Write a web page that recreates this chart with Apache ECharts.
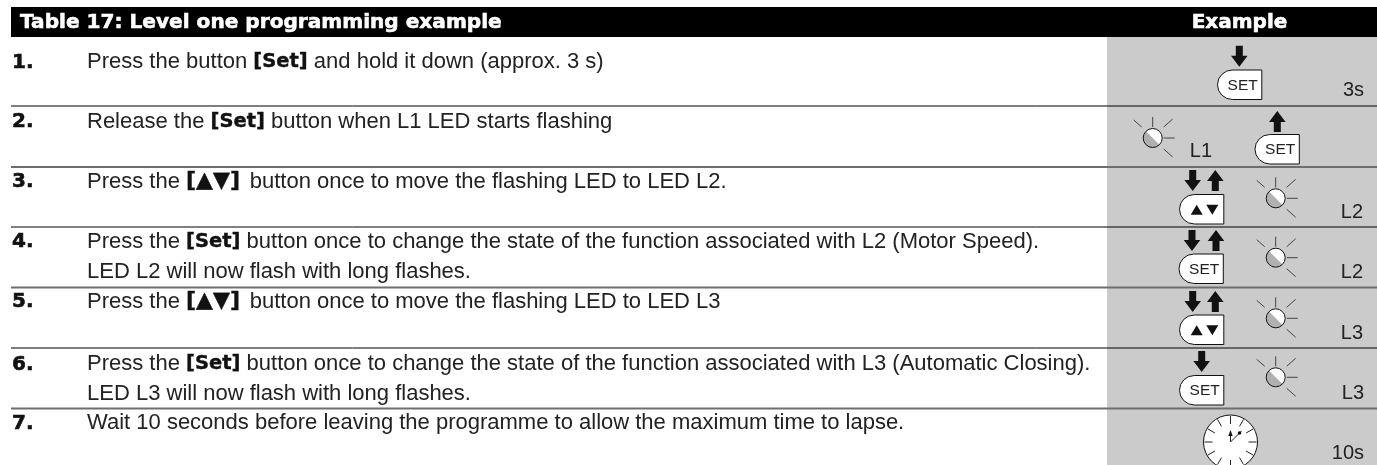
<!DOCTYPE html>
<html>
<head>
<meta charset="utf-8">
<style>
  html, body { margin: 0; padding: 0; background: #fff; overflow: hidden; }
  #chart { width: 1377px; height: 465px; }
</style>
<script src="https://cdn.jsdelivr.net/npm/echarts@6/dist/echarts.min.js"></script>
</head>
<body>
<div id="chart"></div>
<script>
// table content
var tableTitle = "Table 17: Level one programming example";
var exampleTitle = "Example";
var stepNumbers = ["1.", "2.", "3.", "4.", "5.", "6.", "7."];
var stepLines = [
  ["Press the button [Set] and hold it down (approx. 3 s)"],
  ["Release the [Set] button when L1 LED starts flashing"],
  ["Press the [▲▼] button once to move the flashing LED to LED L2."],
  ["Press the [Set] button once to change the state of the function associated with L2 (Motor Speed).",
   "LED L2 will now flash with long flashes."],
  ["Press the [▲▼] button once to move the flashing LED to LED L3"],
  ["Press the [Set] button once to change the state of the function associated with L3 (Automatic Closing).",
   "LED L3 will now flash with long flashes."],
  ["Wait 10 seconds before leaving the programme to allow the maximum time to lapse."]
];
var stepUnits = ["3s", "L1", "L2", "L2", "L3", "L3", "10s"];
var buttonCaptions = ["SET", "SET", "", "SET", "", "SET"];

// layout of the page, in px
var textFont = "Liberation Sans, Arial, sans-serif";
var heavyFont = "DejaVu Sans, sans-serif";
var ink = "#222222";
var grey = "#cbcbcb";
var rowTextY = [62, 121.7, 181.7, 241.7, 301.7, 364.3, 423];
var lineGap = 30;
var rules = [
  { y: 106, w: 1, c: "#000" }, { y: 167, w: 2, c: "#6e6e6e" }, { y: 227, w: 1, c: "#000" },
  { y: 287.5, w: 2, c: "#6e6e6e" }, { y: 348, w: 1, c: "#000" }, { y: 408.5, w: 2, c: "#6e6e6e" }
];
var unitPos = [[1364, 90], [1212, 151], [1363, 212], [1363, 272], [1363, 333], [1364, 393], [1364, 453]];
var buttonPos = [[1217.5, 70], [1255, 134.5], [1179.5, 194.5], [1179, 254], [1179.5, 315], [1179.5, 375.5]];
var ledPos = [[1152.7, 138], [1275.7, 198.3], [1275.7, 257.7], [1275.7, 318.3], [1275.7, 377.3]];
// x, top, direction (1 down, -1 up)
var arrowPos = [
  [1239.3, 45.7, 1], [1277.3, 111, -1], [1192.7, 170, 1], [1215.3, 170, -1], [1192, 230, 1],
  [1216, 230, -1], [1192.7, 291, 1], [1215.3, 291, -1], [1201.7, 351, 1]
];
var clock = { x: 1230.5, y: 442, r: 27 };

var items = [];

function boldMarks(s) {
  return s.replace(/\[[^\]]+\] ?/g, function (m) {
    var mark = m.trim();
    return mark === "[Set]" ? "{b|" + mark + "} " : "{t|" + mark + "}{s| }";
  });
}

function addLine(x1, y1, x2, y2, w, c) {
  items.push({ type: "line", shape: { x1: x1, y1: y1, x2: x2, y2: y2 }, style: { stroke: c || ink, lineWidth: w || 1 }, silent: true });
}

function addText(x, y, s, style) {
  var st = Object.assign({ x: x, y: y, text: s, fontFamily: textFont, fill: ink, verticalAlign: "middle" }, style);
  items.push({ type: "text", style: st, silent: true });
}

function addArrow(a) {
  var x = a[0], t = a[1], d = a[2], h = 21;
  var pts = d > 0
    ? [[x - 3.5, t], [x + 3.5, t], [x + 3.5, t + 10], [x + 8.3, t + 10], [x, t + h], [x - 8.3, t + 10], [x - 3.5, t + 10]]
    : [[x, t], [x + 8.3, t + 11], [x + 3.5, t + 11], [x + 3.5, t + h], [x - 3.5, t + h], [x - 3.5, t + 11], [x - 8.3, t + 11]];
  items.push({ type: "polygon", shape: { points: pts }, style: { fill: "#111" }, silent: true });
}

function addButton(p, caption) {
  var x = p[0], y = p[1], w = 44.3, h = 29.5, r = 14.7;
  var cy0 = y + h / 2;
  items.push({ type: "circle", shape: { cx: x + r, cy: cy0, r: r }, style: { fill: "#fff" }, silent: true });
  items.push({ type: "rect", shape: { x: x + r, y: y, width: w - r, height: h }, style: { fill: "#fff" }, silent: true });
  items.push({ type: "arc", shape: { cx: x + r, cy: cy0, r: r, startAngle: Math.PI / 2, endAngle: Math.PI * 3 / 2 }, style: { stroke: "#111", lineWidth: 1, fill: "none" }, silent: true });
  items.push({ type: "polyline", shape: { points: [[x + r, y], [x + w, y], [x + w, y + h], [x + r, y + h]] }, style: { stroke: "#111", lineWidth: 1, fill: "none" }, silent: true });
  if (caption) {
    addText(x + w / 2 + 3, y + h / 2 + 0.5, caption, { fontSize: 15.5, align: "center" });
  } else {
    var cx = x + 17.2, cy = y + h / 2 + 0.5;
    items.push({ type: "polygon", shape: { points: [[cx, cy - 5], [cx + 6, cy + 5], [cx - 6, cy + 5]] }, style: { fill: "#111" }, silent: true });
    var dx = x + 32.8;
    items.push({ type: "polygon", shape: { points: [[dx - 6, cy - 5], [dx + 6, cy - 5], [dx, cy + 5]] }, style: { fill: "#111" }, silent: true });
  }
}

function addLed(p) {
  var x = p[0], y = p[1], r = 9.5;
  items.push({ type: "circle", shape: { cx: x, cy: y, r: r }, style: { fill: "#fff" }, silent: true });
  items.push({ type: "sector", shape: { cx: x, cy: y, r: r, startAngle: Math.PI / 4, endAngle: Math.PI * 5 / 4 }, style: { fill: "#b0b0b0" }, silent: true });
  items.push({ type: "circle", shape: { cx: x, cy: y, r: r }, style: { fill: "none", stroke: "#111", lineWidth: 1 }, silent: true });
  addLine(x, y - 21, x, y - 11, 0.8);
  addLine(x + 11, y - 11, x + 20, y - 19, 0.8);
  addLine(x - 11, y - 11, x - 19, y - 18, 0.8);
  addLine(x + 11, y, x + 22, y, 0.8);
  addLine(x + 11, y + 11, x + 20, y + 19, 0.8);
}

function addClock(c) {
  items.push({ type: "circle", shape: { cx: c.x, cy: c.y, r: c.r }, style: { fill: "#fff", stroke: "#111", lineWidth: 1 }, silent: true });
  for (var i = 0; i < 12; i++) {
    var a = i * Math.PI / 6, s = Math.sin(a), k = Math.cos(a);
    addLine(c.x + s * (c.r - 9), c.y - k * (c.r - 9), c.x + s * (c.r - 1), c.y - k * (c.r - 1), 1);
  }
  addLine(c.x, c.y, c.x, c.y - 9, 1);
  addLine(c.x, c.y, c.x + 11, c.y - 11, 1);
  items.push({ type: "polygon", shape: { points: [[c.x, c.y - 12], [c.x + 2.2, c.y - 6], [c.x - 2.2, c.y - 6]] }, style: { fill: "#111" }, silent: true });
  items.push({ type: "circle", shape: { cx: c.x + 9, cy: c.y - 9, r: 1.8 }, style: { fill: "#111" }, silent: true });
}

// background bars
items.push({ type: "rect", shape: { x: 1107, y: 37, width: 270, height: 428 }, style: { fill: grey }, silent: true });
items.push({ type: "rect", shape: { x: 11, y: 7, width: 1366, height: 30 }, style: { fill: "#000" }, silent: true });
rules.forEach(function (r) { addLine(11, r.y, 1377, r.y, r.w, r.c); });

addText(20, 22.5, tableTitle, { fontFamily: heavyFont, fontSize: 20.1, fontWeight: "bold", fill: "#fff", stroke: "#fff", lineWidth: 0.6 });
addText(1239.5, 22.5, exampleTitle, { fontFamily: heavyFont, fontSize: 20, fontWeight: "bold", fill: "#fff", stroke: "#fff", lineWidth: 0.6, align: "center" });

stepNumbers.forEach(function (n, i) {
  addText(12, rowTextY[i] + 0.5, n, { fontFamily: heavyFont, fontSize: 20, fontWeight: "bold", fill: "#111", stroke: "#111", lineWidth: 0.6 });
  stepLines[i].forEach(function (line, j) {
    addText(87, rowTextY[i] + j * lineGap, boldMarks(line), {
      fontSize: 22,
      rich: {
        b: { fontFamily: heavyFont, fontSize: 19.5, fontWeight: "bold", fill: "#111", stroke: "#111", lineWidth: 0.4 },
        t: { fontFamily: heavyFont, fontSize: 22, fontWeight: "bold", fill: "#111", stroke: "#111", lineWidth: 0.4 },
        s: { fontFamily: heavyFont, fontSize: 28, fontWeight: "bold" }
      }
    });
  });
  addText(unitPos[i][0], unitPos[i][1], stepUnits[i], { fontSize: 20, align: "right" });
});

arrowPos.forEach(addArrow);
buttonPos.forEach(function (p, i) { addButton(p, buttonCaptions[i]); });
ledPos.forEach(addLed);
addClock(clock);

var myChart = echarts.init(document.getElementById("chart"));
myChart.setOption({
  backgroundColor: "#ffffff",
  animation: false,
  graphic: { elements: items }
});
</script>
</body>
</html>
